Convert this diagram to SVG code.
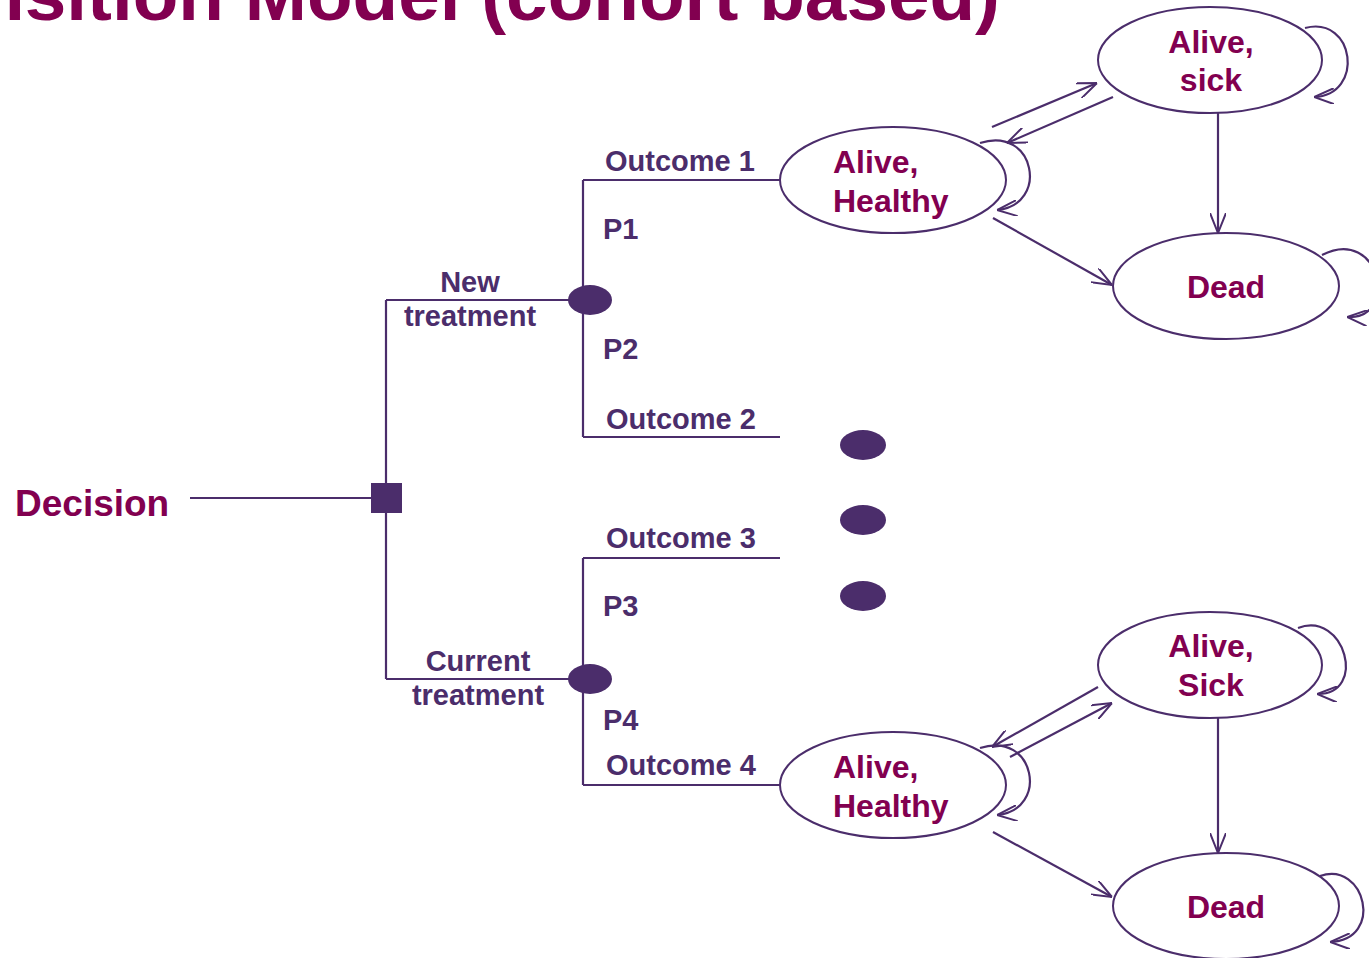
<svg xmlns="http://www.w3.org/2000/svg" width="1369" height="958" viewBox="0 0 1369 958">
  <style>
    .ln { stroke: #4b2d6b; stroke-width: 2.2; fill: none; }
    .st { stroke: #4b2d6b; stroke-width: 2; fill: #ffffff; }
    .dot { fill: #4b2d6b; }
    .lbl { font-family: "Liberation Sans", Arial, sans-serif; font-weight: bold; font-size: 29px; fill: #4b2d6b; }
    .nm { font-family: "Liberation Sans", Arial, sans-serif; font-weight: bold; font-size: 32px; fill: #820050; }
    .title { font-family: "Liberation Sans", Arial, sans-serif; font-weight: bold; font-size: 72px; fill: #820050; }
  </style>
  <defs>
    <marker id="arr" viewBox="0 0 20 16" refX="20" refY="8" markerWidth="20" markerHeight="16" markerUnits="userSpaceOnUse" orient="auto">
      <path d="M0,0 L20,8 L0,16" fill="none" stroke="#4b2d6b" stroke-width="2"/>
    </marker>
  </defs>
  <rect width="1369" height="958" fill="#ffffff"/>

  <!-- heading, running off the top-left edge -->
  <text class="title" x="-133" y="20" textLength="1133" lengthAdjust="spacingAndGlyphs">Transition Model (cohort based)</text>

  <!-- decision tree branches -->
  <g id="tree">
    <line class="ln" x1="190" y1="498" x2="372" y2="498"/>
    <line class="ln" x1="386" y1="300" x2="386" y2="679"/>
    <line class="ln" x1="386" y1="300" x2="572" y2="300"/>
    <line class="ln" x1="386" y1="679" x2="572" y2="679"/>
    <line class="ln" x1="583" y1="180" x2="583" y2="437"/>
    <line class="ln" x1="583" y1="558" x2="583" y2="785"/>
    <line class="ln" x1="583" y1="180" x2="780" y2="180"/>
    <line class="ln" x1="583" y1="437" x2="780" y2="437"/>
    <line class="ln" x1="583" y1="558" x2="780" y2="558"/>
    <line class="ln" x1="583" y1="785" x2="780" y2="785"/>
  </g>

  <g id="decision">
    <text class="nm" x="15" y="516" style="font-size:37px">Decision</text>
    <rect class="dot" x="371" y="483" width="31" height="30"/>
  </g>

  <g id="chance-new">
    <ellipse class="dot" cx="590" cy="300" rx="22" ry="15"/>
    <text class="lbl" x="470" y="292" text-anchor="middle">New</text>
    <text class="lbl" x="470" y="326" text-anchor="middle">treatment</text>
  </g>
  <g id="chance-current">
    <ellipse class="dot" cx="590" cy="679" rx="22" ry="15"/>
    <text class="lbl" x="478" y="671" text-anchor="middle">Current</text>
    <text class="lbl" x="478" y="705" text-anchor="middle">treatment</text>
  </g>

  <g id="branch-labels">
    <text class="lbl" x="605" y="171">Outcome 1</text>
    <text class="lbl" x="603" y="239">P1</text>
    <text class="lbl" x="603" y="359">P2</text>
    <text class="lbl" x="606" y="429">Outcome 2</text>
    <text class="lbl" x="606" y="548">Outcome 3</text>
    <text class="lbl" x="603" y="616">P3</text>
    <text class="lbl" x="603" y="730">P4</text>
    <text class="lbl" x="606" y="775">Outcome 4</text>
  </g>

  <!-- ellipsis between the two Markov models -->
  <g id="more">
    <ellipse class="dot" cx="863" cy="445" rx="23" ry="15"/>
    <ellipse class="dot" cx="863" cy="520" rx="23" ry="15"/>
    <ellipse class="dot" cx="863" cy="596" rx="23" ry="15"/>
  </g>

  <!-- transitions -->
  <g id="connectors">
    <line class="ln" x1="992" y1="127" x2="1097" y2="83" marker-end="url(#arr)"/>
    <line class="ln" x1="1113" y1="97" x2="1007" y2="143" marker-end="url(#arr)"/>
    <line class="ln" x1="993" y1="218" x2="1112" y2="285" marker-end="url(#arr)"/>
    <line class="ln" x1="1218" y1="112" x2="1218" y2="233" marker-end="url(#arr)"/>
    <path class="ln" d="M1305,28 C1355,15 1365,95 1314,97" marker-end="url(#arr)"/>
    <path class="ln" d="M980,143 C1035,125 1050,205 997,210" marker-end="url(#arr)"/>
    <path class="ln" d="M1322,255 C1380,225 1400,320 1347,317" marker-end="url(#arr)"/>

    <line class="ln" x1="1098" y1="687" x2="992" y2="747" marker-end="url(#arr)"/>
    <line class="ln" x1="1010" y1="757" x2="1112" y2="703" marker-end="url(#arr)"/>
    <line class="ln" x1="993" y1="832" x2="1112" y2="897" marker-end="url(#arr)"/>
    <line class="ln" x1="1218" y1="718" x2="1218" y2="853" marker-end="url(#arr)"/>
    <path class="ln" d="M1298,628 C1345,610 1368,695 1317,694" marker-end="url(#arr)"/>
    <path class="ln" d="M980,748 C1035,730 1050,810 997,815" marker-end="url(#arr)"/>
    <path class="ln" d="M1320,876 C1365,860 1385,940 1330,942" marker-end="url(#arr)"/>
  </g>

  <!-- states, new treatment -->
  <g id="healthy-1">
    <ellipse class="st" cx="893" cy="180" rx="113" ry="53"/>
    <text class="nm" x="833" y="173">Alive,</text>
    <text class="nm" x="833" y="212">Healthy</text>
  </g>
  <g id="sick-1">
    <ellipse class="st" cx="1210" cy="60" rx="112" ry="53"/>
    <text class="nm" x="1211" y="53" text-anchor="middle">Alive,</text>
    <text class="nm" x="1211" y="91" text-anchor="middle">sick</text>
  </g>
  <g id="dead-1">
    <ellipse class="st" cx="1226" cy="286" rx="113" ry="53"/>
    <text class="nm" x="1226" y="298" text-anchor="middle">Dead</text>
  </g>

  <!-- states, current treatment -->
  <g id="healthy-2">
    <ellipse class="st" cx="893" cy="785" rx="113" ry="53"/>
    <text class="nm" x="833" y="778">Alive,</text>
    <text class="nm" x="833" y="817">Healthy</text>
  </g>
  <g id="sick-2">
    <ellipse class="st" cx="1210" cy="665" rx="112" ry="53"/>
    <text class="nm" x="1211" y="657" text-anchor="middle">Alive,</text>
    <text class="nm" x="1211" y="696" text-anchor="middle">Sick</text>
  </g>
  <g id="dead-2">
    <ellipse class="st" cx="1226" cy="906" rx="113" ry="53"/>
    <text class="nm" x="1226" y="918" text-anchor="middle">Dead</text>
  </g>
</svg>
